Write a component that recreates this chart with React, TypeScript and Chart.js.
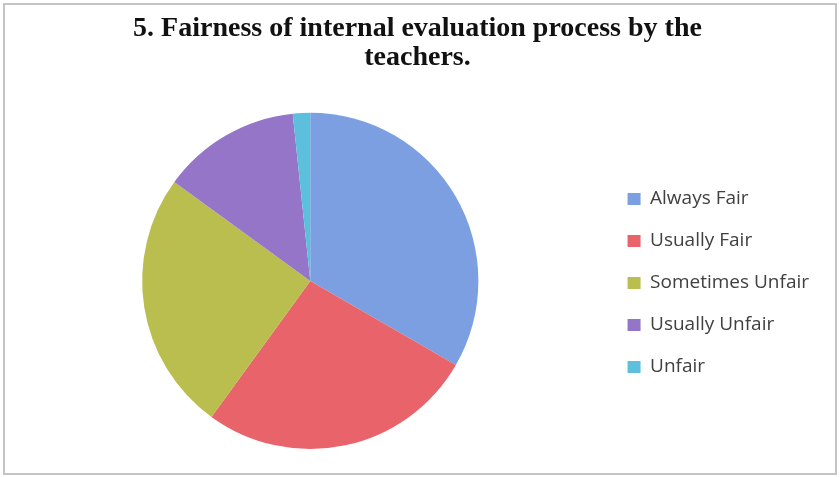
import React, { useEffect, useRef } from "react";
import { Chart, registerables } from "chart.js";

Chart.register(...registerables);

const categories = ["Always Fair", "Usually Fair", "Sometimes Unfair", "Usually Unfair", "Unfair"];
const responses = [20, 16, 15, 8, 1];
const sliceColors = ["#7B9FE0", "#E8636A", "#BABE4E", "#9575C8", "#5CC0DD"];
const titleLines = ["5. Fairness of internal evaluation process by the", "teachers."];

const frameBorder = {
  id: "frameBorder",
  beforeDraw(chart: any) {
    const ctx = chart.ctx;
    ctx.save();
    ctx.fillStyle = "#ffffff";
    ctx.fillRect(0, 0, chart.width, chart.height);
    ctx.strokeStyle = "#c4c4c4";
    ctx.lineWidth = 2;
    ctx.strokeRect(4, 4, chart.width - 8, chart.height - 7);
    ctx.restore();
  },
};

export default function App() {
  const ref = useRef<HTMLCanvasElement>(null);
  useEffect(() => {
    document.body.style.margin = "0";
    const chart = new Chart(ref.current!, {
      type: "pie",
      data: {
        labels: categories,
        datasets: [
          {
            data: responses,
            backgroundColor: sliceColors,
            borderWidth: 0,
          },
        ],
      },
      options: {
        animation: false,
        responsive: false,
        maintainAspectRatio: false,
        layout: { padding: { left: 16, right: 21, top: 3, bottom: 28 } },
        plugins: {
          title: {
            display: true,
            text: titleLines,
            color: "#111111",
            font: { family: "'Liberation Serif', 'Times New Roman', serif", size: 28, weight: "bold", lineHeight: 1.05 },
            padding: { top: 11, bottom: 40 },
          },
          legend: {
            position: "right",
            title: {
              display: true,
              text: "",
              font: { size: 12, lineHeight: 1 },
              padding: { top: 51, bottom: 51 },
            },
            labels: {
              color: "#404040",
              boxWidth: 13,
              boxHeight: 12,
              padding: 23,
              font: { family: "'Open Sans', Lato, sans-serif", size: 19, lineHeight: 1.2 },
            },
          },
          tooltip: { enabled: false },
        },
      },
      plugins: [frameBorder],
    });
    return () => chart.destroy();
  }, []);
  return (
    <div style={{ width: 840, height: 477 }}>
      <canvas ref={ref} width={840} height={477} style={{ display: "block" }} />
    </div>
  );
}
